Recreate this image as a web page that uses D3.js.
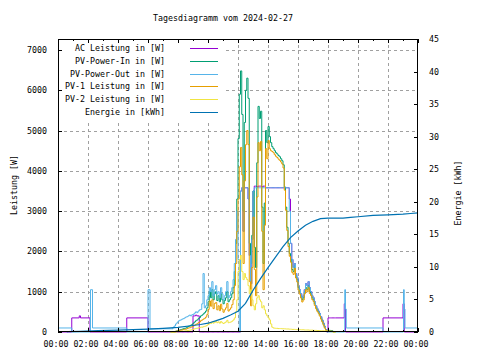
<!DOCTYPE html>
<html><head><meta charset="utf-8">
<script src="https://cdn.jsdelivr.net/npm/d3@7"></script>
<style>
body{margin:0;background:#fff}
svg{display:block}
text{font-family:"DejaVu Sans Mono",monospace;font-size:8.3px;fill:#000}
</style>
</head><body><svg id="c" width="480" height="360"></svg>
<script>
// ---------------- DATA ----------------
const title = "Tagesdiagramm vom 2024-02-27";
const yLabelLeft = "Leistung [W]";
const yLabelRight = "Energie [kWh]";
const xTickHours = [0,2,4,6,8,10,12,14,16,18,20,22,24];
const xTickLabels = ["00:00","02:00","04:00","06:00","08:00","10:00","12:00","14:00","16:00","18:00","20:00","22:00","00:00"];
const xMinorHours = [1,3,5,7,9,11,13,15,17,19,21,23];
const yLeftTicks = [0,1000,2000,3000,4000,5000,6000,7000];
const yRightTicks = [0,5,10,15,20,25,30,35,40,45];
const seriesNames = ["AC Leistung in [W]","PV-Power-In in [W]","PV-Power-Out in [W]","PV-1 Leistung in [W]","PV-2 Leistung in [W]","Energie in [kWh]"];

// day samples: every 5 minutes from 07:30 to 18:30
const dayStart = "07:30";
const dayStepMinutes = 5;

// AC Leistung (W)
const acNightAMTimes  = ["00:00","00:55","01:25","01:30","02:08","04:35","06:00"];
const acNightAMValues = [0,350,400,350,0,350,0];
const acDay = [
 0,0,0,0,0,0,0,0,0,0,0,0,
 0,0,0,0,0,0,400,400,420,400,400,0,
 0,0,0,0,0,0,0,0,0,0,0,0,
 0,0,0,0,0,0,0,0,0,0,0,0,
 0,0,0,0,0,0,0,0,3500,3580,2500,3580,
 3580,3580,3300,1900,1200,2300,3500,3620,3620,3600,3620,3620,
 3620,3600,3620,3620,3580,3580,3580,3580,3580,3580,3580,3580,
 3580,3580,3580,3580,3580,3580,3580,3580,3580,3580,3580,3300,
 2200,1800,1600,1700,1450,1350,1150,1050,950,850,900,1050,
 1200,1150,1250,1100,1000,900,850,750,650,580,520,460,
 380,300,220,140,60,0,350,350,350,350,350,350,
 350];
const acNightPMTimes  = ["19:05","19:10","21:40","23:00","23:05","24:00"];
const acNightPMValues = [700,0,350,700,0,0];

// PV-Power-Out (W)
const outNightAMTimes  = ["00:00","00:55","02:10","02:18","04:35","06:00","06:08"];
const outNightAMValues = [100,0,1050,100,0,1050,80];
const outDay = [
 80,80,120,150,200,230,270,290,300,320,330,350,
 370,380,400,420,400,430,440,470,500,480,520,550,
 560,700,1450,600,650,800,900,1100,1000,1250,900,1050,
 1150,950,1000,850,1100,950,800,900,1000,1250,850,900,
 1000,1100,1300,1700,2300,3000,1800,0,3500,3580,2500,3580,
 3580,3580,3300,1900,1200,2300,3500,3580,3580,3580,3580,3580,
 3580,3580,3580,3580,3580,3580,3580,3580,3580,3580,3580,3580,
 3580,3580,3580,3580,3580,3580,3580,3580,3580,3580,3580,3000,
 2200,1800,1600,1700,1450,1350,1150,1050,950,850,900,1050,
 1200,1150,1250,1100,1000,900,850,750,650,580,520,460,
 380,300,220,140,60,0,0,0,0,0,0,0,
 0];
const outNightPMTimes  = ["19:07","19:10","19:13","21:40","23:02","23:05","23:08","24:00"];
const outNightPMValues = [1050,570,100,0,1050,570,100,100];

// PV-Power-In (W)
const inDay = [
 0,0,0,0,20,30,40,50,60,70,80,90,
 100,120,140,150,170,190,220,250,280,300,330,360,
 400,420,450,480,520,600,750,1000,850,1050,800,950,
 1000,780,900,750,950,800,700,780,850,1000,750,800,
 850,950,1100,1500,2200,3300,4800,5900,6480,5400,3000,5200,
 6000,6300,5800,2200,1700,2400,3500,2100,1600,4200,5600,5300,
 5480,3100,1700,3200,5000,4700,5100,4850,4700,4600,4550,4500,
 4450,4420,4380,4350,4300,4250,4150,3600,3100,2600,2200,1950,
 1800,1550,1500,1650,1400,1300,1100,1000,900,800,850,1000,
 1100,1050,1150,1000,950,850,800,700,620,550,500,430,
 350,280,200,120,60,40,40,40,35,30,0,0,
 0];

// PV-1 Leistung (W)
const pv1Day = [
 0,0,0,0,20,25,30,40,45,50,60,65,
 70,85,100,105,120,130,150,170,190,205,230,250,
 280,300,320,340,370,430,560,770,640,800,580,710,
 730,550,650,530,690,570,490,550,600,710,520,560,
 600,680,800,1150,1700,2500,3300,4100,4580,3900,1700,3750,
 4650,5000,4650,1250,650,1600,2850,1550,900,3350,4700,4500,
 4730,2500,1050,2650,4550,4300,4750,4550,4500,4480,4450,4400,
 4360,4330,4290,4260,4220,4170,4070,3520,3020,2520,2120,1880,
 1730,1480,1430,1580,1340,1240,1040,940,845,745,795,950,
 1050,1000,1100,955,905,805,760,660,580,515,465,395,
 320,250,170,95,40,25,25,25,20,20,0,0,
 0];

// PV-2 Leistung (W)
const pv2Day = [
 0,0,0,0,0,5,10,10,15,20,20,25,
 30,35,40,45,50,60,70,80,90,95,100,110,
 120,120,130,140,150,170,190,230,210,250,220,240,
 270,230,250,220,260,230,210,230,250,290,230,240,
 250,270,300,350,500,800,1500,1800,1900,1500,1300,1450,
 1350,1300,1150,950,1050,800,650,550,700,850,900,800,
 750,600,650,550,450,400,350,300,200,120,100,95,
 90,90,85,85,85,80,80,80,75,75,75,70,
 70,65,65,65,60,60,60,60,55,55,55,50,
 50,50,50,45,45,45,40,40,40,35,35,35,
 30,30,30,25,25,20,20,15,10,5,0,0,
 0];

// Energie (kWh)
const energyTimes  = ["00:35","00:40","01:30","02:40","04:00","05:00","06:00","07:00","08:00","09:00","09:30","10:00","10:30","11:00","11:30","12:00","12:30","13:00","13:30","14:00","14:30","15:00","15:30","16:00","16:30","17:00","17:30","18:00","19:00","19:30","20:00","21:00","22:00","23:00","23:30","24:00"];
const energyValues = [0,0.05,0.1,0.2,0.3,0.35,0.45,0.55,0.7,1.0,1.15,1.35,1.7,2.1,2.6,3.2,4.4,6.4,8.2,9.9,11.5,13.1,14.5,15.5,16.4,17.0,17.4,17.5,17.5,17.6,17.7,17.9,18.0,18.1,18.2,18.3];

// ---------------- CHART ----------------
const colors = ["#9400d3","#009e73","#56b4e9","#e69f00","#f0e442","#0072b2"];
const L = 58, R = 418, T = 39, B = 332;
const svg = d3.select("#c");
const hrs = s => { const [h,m] = s.split(":").map(Number); return h + m/60; };
const x = d3.scaleLinear().domain([0,24]).range([L,R]);
const yL = d3.scaleLinear().domain([0,7272]).range([B,T]);
const yR = d3.scaleLinear().domain([0,45]).range([B,T]);

const t0 = hrs(dayStart);
const dayPts = arr => arr.map((v,i) => ({t: t0 + i*dayStepMinutes/60, v}));
const pts = (ts, vs) => ts.map((s,i) => ({t: hrs(s), v: vs[i]}));

const acData = pts(acNightAMTimes, acNightAMValues).concat(dayPts(acDay), pts(acNightPMTimes, acNightPMValues));
const outData = pts(outNightAMTimes, outNightAMValues).concat(dayPts(outDay), pts(outNightPMTimes, outNightPMValues));
const inData = dayPts(inDay);
const pv1Data = dayPts(pv1Day);
const pv2Data = dayPts(pv2Day);
const energyData = pts(energyTimes, energyValues);

// grid
const grid = svg.append("g").attr("stroke","#a0a0a0").attr("stroke-width",1).attr("stroke-dasharray","3,3");
yLeftTicks.slice(1).forEach(v => {
  const yy = Math.round(yL(v)) + 0.5;
  grid.append("line").attr("x1",L).attr("x2",R).attr("y1",yy).attr("y2",yy);
});
xTickHours.slice(1,-1).forEach(h => {
  const xx = Math.round(x(h)) + 0.5;
  grid.append("line").attr("x1",xx).attr("x2",xx).attr("y1",T).attr("y2",B);
});

// opaque key background
svg.append("rect").attr("x",L+1).attr("y",T+1).attr("width",166).attr("height",83).attr("fill","#fff");

// series
const lineW = d3.line().x(d => x(d.t)).y(d => yL(d.v)).curve(d3.curveStepAfter);
const lineE = d3.line().x(d => x(d.t)).y(d => yR(d.v));
const plotSeries = [acData, inData, outData, pv1Data, pv2Data];
plotSeries.forEach((data, i) => {
  svg.append("path").datum(data).attr("d", lineW).attr("fill","none")
    .attr("stroke", colors[i]).attr("stroke-width",1);
});
svg.append("path").datum(energyData).attr("d", lineE).attr("fill","none")
  .attr("stroke", colors[5]).attr("stroke-width",1.2);

// border
svg.append("rect").attr("x",L+0.5).attr("y",T+0.5).attr("width",R-L-1).attr("height",B-T-1)
  .attr("fill","none").attr("stroke","#000").attr("stroke-width",1);

// ticks
const tk = svg.append("g").attr("stroke","#000").attr("stroke-width",1);
yLeftTicks.forEach(v => { const yy = Math.round(yL(v)) + 0.5;
  tk.append("line").attr("x1",L).attr("x2",L+4).attr("y1",yy).attr("y2",yy); });
yRightTicks.forEach(v => { const yy = Math.round(yR(v)) + 0.5;
  tk.append("line").attr("x1",R-4).attr("x2",R).attr("y1",yy).attr("y2",yy); });
xTickHours.forEach(h => { const xx = Math.round(x(h)) + 0.5;
  tk.append("line").attr("x1",xx).attr("x2",xx).attr("y1",B).attr("y2",B-4);
  tk.append("line").attr("x1",xx).attr("x2",xx).attr("y1",T).attr("y2",T+4); });
xMinorHours.forEach(h => { const xx = Math.round(x(h)) + 0.5;
  tk.append("line").attr("x1",xx).attr("x2",xx).attr("y1",B).attr("y2",B-2);
  tk.append("line").attr("x1",xx).attr("x2",xx).attr("y1",T).attr("y2",T+2); });

// tick labels
xTickHours.forEach((h,i) => svg.append("text").attr("x", x(h)-2).attr("y", 346.5)
  .attr("text-anchor","middle").text(xTickLabels[i]));
yLeftTicks.forEach(v => svg.append("text").attr("x", 47).attr("y", yL(v)+3)
  .attr("text-anchor","end").text(v));
yRightTicks.forEach(v => svg.append("text").attr("x", 429).attr("y", yR(v)+3)
  .attr("text-anchor","start").text(v));

// titles
svg.append("text").attr("x",223).attr("y",21).attr("text-anchor","middle").text(title);
svg.append("text").attr("transform","translate(17,185) rotate(-90)").attr("text-anchor","middle").text(yLabelLeft);
svg.append("text").attr("transform","translate(461,193) rotate(-90)").attr("text-anchor","middle").text(yLabelRight);

// legend
seriesNames.forEach((name,i) => {
  const yy = 47.7 + 12.9*i;
  svg.append("text").attr("x",165).attr("y",yy+3).attr("text-anchor","end").text(name);
  svg.append("line").attr("x1",190).attr("x2",218).attr("y1",Math.round(yy)+0.5).attr("y2",Math.round(yy)+0.5)
    .attr("stroke",colors[i]).attr("stroke-width",1);
});
</script>
</body></html>
